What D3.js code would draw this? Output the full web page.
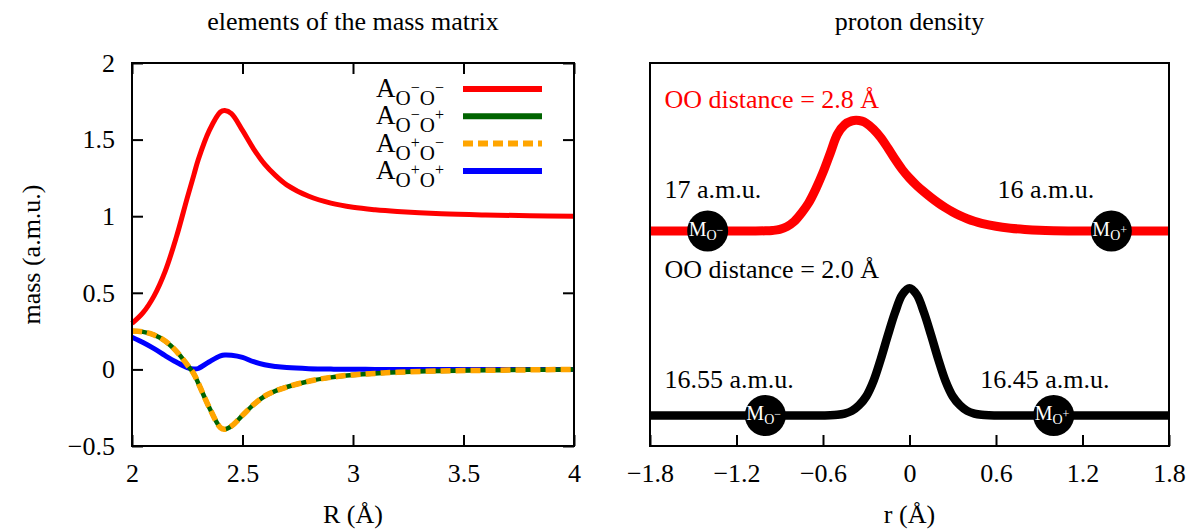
<!DOCTYPE html>
<html>
<head>
<meta charset="utf-8">
<script src="https://cdn.jsdelivr.net/npm/d3@7"></script>
<style>
  body { margin: 0; background: #fff; }
  svg text { font-family: "Liberation Serif", "Times New Roman", serif; }
</style>
</head>
<body>
<svg id="chart" width="1194" height="529"></svg>
<script>
// ---- left panel data: elements of the mass matrix vs R ----
const massR   = [2.00, 2.05, 2.10, 2.15, 2.20, 2.25, 2.28, 2.30, 2.35, 2.40, 2.42, 2.45, 2.50, 2.55, 2.60, 2.65, 2.70, 2.80, 2.90, 3.00, 3.10, 3.20, 3.40, 3.60, 3.80, 4.00];
const aMinMin = [0.30, 0.37, 0.48, 0.64, 0.86, 1.12, 1.27, 1.37, 1.56, 1.68, 1.69, 1.67, 1.56, 1.44, 1.34, 1.265, 1.205, 1.13, 1.085, 1.058, 1.042, 1.031, 1.016, 1.008, 1.003, 1.00];
const aMinPls = [0.25, 0.245, 0.225, 0.185, 0.12, 0.03, -0.03, -0.09, -0.25, -0.38, -0.39, -0.37, -0.30, -0.23, -0.175, -0.14, -0.115, -0.077, -0.052, -0.036, -0.026, -0.019, -0.01, -0.006, -0.003, 0];
const aPlsMin = [0.25, 0.245, 0.225, 0.185, 0.12, 0.03, -0.03, -0.09, -0.25, -0.38, -0.39, -0.37, -0.30, -0.23, -0.175, -0.14, -0.115, -0.077, -0.052, -0.036, -0.026, -0.019, -0.01, -0.006, -0.003, 0];
const aPlsPls = [0.21, 0.175, 0.135, 0.09, 0.048, 0.012, 0.002, 0.006, 0.05, 0.088, 0.094, 0.092, 0.078, 0.05, 0.03, 0.019, 0.012, 0.005, 0.002, 0.001, 0, 0, 0, 0, 0, 0];

const massTicksX = [2, 2.5, 3, 3.5, 4];
const massTicksY = [-0.5, 0, 0.5, 1, 1.5, 2];

// ---- right panel data: proton density vs r ----
const rOO28   = [-1.8, -1.1, -1.0, -0.95, -0.9, -0.85, -0.8, -0.75, -0.7, -0.65, -0.6, -0.55, -0.5, -0.45, -0.4, -0.37, -0.33, -0.3, -0.25, -0.2, -0.15, -0.1, -0.05, 0.0, 0.05, 0.1, 0.15, 0.2, 0.25, 0.3, 0.35, 0.4, 0.45, 0.5, 0.6, 0.7, 0.8, 0.9, 1.0, 1.1, 1.8];
const dOO28   = [0, 0, 0.001, 0.004, 0.012, 0.034, 0.074, 0.14, 0.22, 0.33, 0.46, 0.61, 0.76, 0.835, 0.865, 0.87, 0.863, 0.847, 0.80, 0.735, 0.652, 0.563, 0.482, 0.415, 0.358, 0.308, 0.262, 0.22, 0.182, 0.149, 0.12, 0.096, 0.076, 0.06, 0.037, 0.022, 0.012, 0.005, 0.0015, 0, 0];
const rOO20   = [-1.8, -0.6, -0.55, -0.5, -0.45, -0.4, -0.35, -0.3, -0.25, -0.2, -0.15, -0.1, -0.05, 0, 0.05, 0.1, 0.15, 0.2, 0.25, 0.3, 0.35, 0.4, 0.45, 0.5, 0.55, 0.6, 1.8];
const dOO20   = [0, 0, 0.001, 0.005, 0.015, 0.036, 0.08, 0.15, 0.27, 0.44, 0.63, 0.81, 0.95, 1.0, 0.95, 0.81, 0.63, 0.44, 0.27, 0.15, 0.08, 0.036, 0.015, 0.005, 0.001, 0, 0];
const offset28 = 1.45;
const offset20 = 0;

const rTicks = [-1.8, -1.2, -0.6, 0, 0.6, 1.2, 1.8];

const markers28 = [-1.4, 1.4];
const markers20 = [-1.0, 1.0];
const markerSigns = ["\u2212", "+"];

const svg = d3.select("#chart");
const FS = 26;

// ---------------- left panel ----------------
const L = { left: 132, right: 574, top: 63, bottom: 446 };
const xL = d3.scaleLinear().domain([2, 4]).range([L.left, L.right]);
const yL = d3.scaleLinear().domain([-0.5, 2]).range([L.bottom, L.top]);
const fmt = d3.format("~g");

function styleAxis(g) {
    g.select(".domain").remove();
    g.selectAll(".tick line").attr("stroke", "#000").attr("stroke-width", 2);
    g.selectAll(".tick text").attr("font-size", FS).attr("fill", "#000")
        .attr("font-family", "Liberation Serif, Times New Roman, serif");
}

svg.append("g").attr("transform", `translate(0,${L.bottom})`)
    .call(d3.axisBottom(xL).tickValues(massTicksX).tickFormat(fmt).tickSizeInner(-11).tickSizeOuter(0).tickPadding(18))
    .call(styleAxis);
svg.append("g").attr("transform", `translate(0,${L.top})`)
    .call(d3.axisTop(xL).tickValues(massTicksX).tickFormat("").tickSizeInner(-11).tickSizeOuter(0))
    .call(styleAxis);
svg.append("g").attr("transform", `translate(${L.left},0)`)
    .call(d3.axisLeft(yL).tickValues(massTicksY).tickFormat(fmt).tickSizeInner(-11).tickSizeOuter(0).tickPadding(17))
    .call(styleAxis);
svg.append("g").attr("transform", `translate(${L.right},0)`)
    .call(d3.axisRight(yL).tickValues(massTicksY).tickFormat("").tickSizeInner(-11).tickSizeOuter(0))
    .call(styleAxis);

const lineL = d3.line().x(d => xL(d[0])).y(d => yL(d[1])).curve(d3.curveCatmullRom.alpha(0.5));
const zipR = arr => massR.map((r, i) => [r, arr[i]]);

svg.append("path").datum(zipR(aMinMin)).attr("d", lineL)
    .attr("fill", "none").attr("stroke", "#ff0000").attr("stroke-width", 5);
svg.append("path").datum(zipR(aPlsPls)).attr("d", lineL)
    .attr("fill", "none").attr("stroke", "#0000ff").attr("stroke-width", 5);
svg.append("path").datum(zipR(aMinPls)).attr("d", lineL)
    .attr("fill", "none").attr("stroke", "#006400").attr("stroke-width", 4.5);
svg.append("path").datum(zipR(aPlsMin)).attr("d", lineL)
    .attr("fill", "none").attr("stroke", "#ffa500").attr("stroke-width", 5.5)
    .attr("stroke-dasharray", "10,5");

svg.append("rect").attr("x", L.left).attr("y", L.top)
    .attr("width", L.right - L.left).attr("height", L.bottom - L.top)
    .attr("fill", "none").attr("stroke", "#000").attr("stroke-width", 2);

// legend
const legend = [
    { s1: "\u2212", s2: "\u2212", color: "#ff0000", dash: null },
    { s1: "\u2212", s2: "+", color: "#006400", dash: null },
    { s1: "+", s2: "\u2212", color: "#ffa500", dash: "10,5" },
    { s1: "+", s2: "+", color: "#0000ff", dash: null }
];
legend.forEach((d, i) => {
    const cy = 89 + i * 27.3;
    svg.append("line").attr("x1", 463).attr("x2", 542).attr("y1", cy).attr("y2", cy)
        .attr("stroke", d.color).attr("stroke-width", 6)
        .attr("stroke-dasharray", d.dash);
    const t = svg.append("text").attr("x", 376).attr("y", cy + 8).attr("font-size", 27);
    t.append("tspan").text("A");
    t.append("tspan").attr("font-size", 21).attr("dy", 8).text("O");
    t.append("tspan").attr("font-size", 16).attr("dy", -12).text(d.s1);
    t.append("tspan").attr("font-size", 21).attr("dy", 12).text("O");
    t.append("tspan").attr("font-size", 16).attr("dy", -12).text(d.s2);
});

svg.append("text").attr("x", (L.left + L.right) / 2).attr("y", 30)
    .attr("text-anchor", "middle").attr("font-size", FS).text("elements of the mass matrix");
svg.append("text").attr("x", (L.left + L.right) / 2).attr("y", 523)
    .attr("text-anchor", "middle").attr("font-size", FS).text("R (\u00c5)");
svg.append("text").attr("transform", `translate(40,${(L.top + L.bottom) / 2}) rotate(-90)`)
    .attr("text-anchor", "middle").attr("font-size", FS).text("mass (a.m.u.)");

// ---------------- right panel ----------------
const R = { left: 650, right: 1169, top: 63, bottom: 446 };
const xR = d3.scaleLinear().domain([-1.8, 1.8]).range([R.left, R.right]);
const yR = d3.scaleLinear().domain([-0.24, 2.77]).range([R.bottom, R.top]);

svg.append("g").attr("transform", `translate(0,${R.bottom})`)
    .call(d3.axisBottom(xR).tickValues(rTicks).tickFormat(fmt).tickSizeInner(-11).tickSizeOuter(0).tickPadding(18))
    .call(styleAxis);

const lineR = off => d3.line().x(d => xR(d[0])).y(d => yR(d[1] + off)).curve(d3.curveCatmullRom.alpha(0.5));

svg.append("path").datum(rOO28.map((r, i) => [r, dOO28[i]])).attr("d", lineR(offset28))
    .attr("fill", "none").attr("stroke", "#ff0000").attr("stroke-width", 9);
svg.append("path").datum(rOO20.map((r, i) => [r, dOO20[i]])).attr("d", lineR(offset20))
    .attr("fill", "none").attr("stroke", "#000").attr("stroke-width", 8.5);

function massMarkers(positions, off) {
    positions.forEach((r, i) => {
        const cx = xR(r), cy = yR(off);
        svg.append("circle").attr("cx", cx).attr("cy", cy).attr("r", 20.5).attr("fill", "#000");
        const t = svg.append("text").attr("x", cx - 19).attr("y", cy + 5)
            .attr("fill", "#fff").attr("font-size", 20);
        t.append("tspan").text("M");
        t.append("tspan").attr("font-size", 14).attr("dy", 4).text("O");
        t.append("tspan").attr("font-size", 12).attr("dy", -6).text(markerSigns[i]);
    });
}
massMarkers(markers28, offset28);
massMarkers(markers20, offset20);

svg.append("rect").attr("x", R.left).attr("y", R.top)
    .attr("width", R.right - R.left).attr("height", R.bottom - R.top)
    .attr("fill", "none").attr("stroke", "#000").attr("stroke-width", 2);

const notes = [
    { r: -1.7, y: 108, text: "OO distance = 2.8 \u00c5", color: "#ff0000" },
    { r: -1.7, y: 198, text: "17 a.m.u.", color: "#000" },
    { r: 0.61, y: 198, text: "16 a.m.u.", color: "#000" },
    { r: -1.7, y: 278, text: "OO distance = 2.0 \u00c5", color: "#000" },
    { r: -1.7, y: 388, text: "16.55 a.m.u.", color: "#000" },
    { r: 0.49, y: 388, text: "16.45 a.m.u.", color: "#000" }
];
svg.selectAll("text.note").data(notes).join("text")
    .attr("class", "note")
    .attr("x", d => xR(d.r)).attr("y", d => d.y)
    .attr("font-size", FS).attr("fill", d => d.color)
    .text(d => d.text);

svg.append("text").attr("x", (R.left + R.right) / 2).attr("y", 30)
    .attr("text-anchor", "middle").attr("font-size", FS).text("proton density");
svg.append("text").attr("x", (R.left + R.right) / 2).attr("y", 523)
    .attr("text-anchor", "middle").attr("font-size", FS).text("r (\u00c5)");
</script>
</body>
</html>
